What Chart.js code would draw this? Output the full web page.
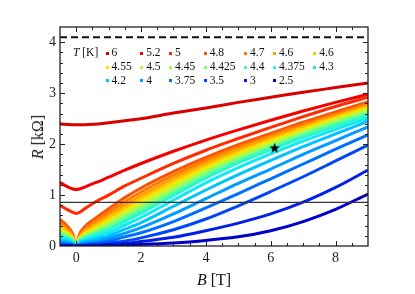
<!DOCTYPE html>
<html>
<head>
<meta charset="utf-8">
<script src="https://cdn.jsdelivr.net/npm/chart.js@4.4.0/dist/chart.umd.min.js"></script>
<style>
  html, body { margin: 0; padding: 0; background: #fff; }
  #wrap { position: relative; width: 415px; height: 294px; font-family: 'Liberation Serif', 'DejaVu Serif', serif; color: #111; }
  #chart { position: absolute; left: 0; top: 0; }
  .ax-title { position: absolute; font-size: 16px; white-space: nowrap; }
  #xTitle { left: 214px; top: 280px; transform: translate(-50%, -50%); }
  #yTitle { left: 38px; top: 137px; transform: translate(-50%, -50%) rotate(-90deg); }
  #legend { position: absolute; left: 73px; top: 46px; display: flex; font-size: 11.5px; line-height: 13.8px; }
  #legend .lg-title { width: 32.5px; }
  #legend .col { margin-right: 8.5px; }
  #legend .item { white-space: nowrap; }
  #legend .dot { display: inline-block; width: 3px; height: 3px; margin-right: 3px; vertical-align: middle; }
</style>
</head>
<body>
<div id="wrap">
  <canvas id="chart" width="415" height="294"></canvas>
  <div class="ax-title" id="xTitle"><i>B</i> [T]</div>
  <div class="ax-title" id="yTitle"><i>R</i> [kΩ]</div>
  <div id="legend"></div>
</div>
<script>
// R(B) curves at different temperatures

const temps = ['6', '5.2', '5', '4.8', '4.7', '4.6', '4.6', '4.55', '4.5', '4.45', '4.425', '4.4', '4.375', '4.3', '4.2', '4', '3.75', '3.5', '3', '2.5'];
const colors = ['#d80000', '#f40000', '#ff2a00', '#ff5200', '#ff7a00', '#ff9e00', '#ffc400', '#f2ea00', '#c8f52e', '#9cff5c', '#7cff80', '#4cffa8', '#2cf5d2', '#12e8f5', '#00c4ff', '#009cff', '#0070ff', '#0048f5', '#0020ea', '#0000cc'];

const fieldB = [-0.5, -0.35, -0.2, -0.1, 0, 0.1, 0.2, 0.35, 0.5, 0.75, 1, 1.5, 2, 3, 4, 5, 6, 7, 8, 9];

const r6    = [2.40, 2.39, 2.385, 2.38, 2.38, 2.38, 2.38, 2.385, 2.39, 2.40, 2.42, 2.46, 2.50, 2.61, 2.71, 2.82, 2.92, 3.02, 3.11, 3.20];
const r52   = [1.25, 1.19, 1.14, 1.12, 1.11, 1.12, 1.14, 1.18, 1.22, 1.28, 1.35, 1.49, 1.62, 1.86, 2.08, 2.28, 2.47, 2.65, 2.82, 2.98];
const r5    = [0.80, 0.74, 0.69, 0.66, 0.64, 0.66, 0.70, 0.77, 0.83, 0.92, 1.00, 1.18, 1.33, 1.62, 1.88, 2.11, 2.33, 2.54, 2.74, 2.92];
const r48   = [0.52, 0.44, 0.33, 0.23, 0.00, 0.23, 0.33, 0.43, 0.50, 0.62, 0.73, 0.95, 1.14, 1.46, 1.74, 1.99, 2.21, 2.43, 2.63, 2.83];
const r47   = [0.46, 0.39, 0.29, 0.20, 0.00, 0.20, 0.29, 0.38, 0.45, 0.56, 0.66, 0.87, 1.06, 1.39, 1.68, 1.94, 2.17, 2.39, 2.59, 2.79];
const r46a  = [0.41, 0.35, 0.26, 0.18, 0.00, 0.18, 0.26, 0.34, 0.40, 0.50, 0.60, 0.80, 0.99, 1.33, 1.63, 1.90, 2.13, 2.35, 2.56, 2.76];
const r46b  = [0.37, 0.31, 0.23, 0.16, 0.00, 0.16, 0.23, 0.30, 0.36, 0.45, 0.55, 0.74, 0.93, 1.27, 1.58, 1.85, 2.09, 2.32, 2.53, 2.73];
const r455  = [0.33, 0.28, 0.21, 0.14, 0.00, 0.14, 0.21, 0.27, 0.32, 0.41, 0.50, 0.68, 0.87, 1.21, 1.53, 1.81, 2.05, 2.28, 2.50, 2.70];
const r45   = [0.30, 0.25, 0.19, 0.13, 0.00, 0.13, 0.19, 0.24, 0.29, 0.37, 0.46, 0.64, 0.82, 1.16, 1.49, 1.77, 2.02, 2.25, 2.47, 2.67];
const r445  = [0.27, 0.23, 0.17, 0.12, 0.00, 0.12, 0.17, 0.22, 0.26, 0.34, 0.42, 0.60, 0.77, 1.11, 1.45, 1.73, 1.98, 2.22, 2.44, 2.64];
const r4425 = [0.24, 0.21, 0.15, 0.11, 0.00, 0.11, 0.15, 0.20, 0.24, 0.31, 0.39, 0.56, 0.73, 1.07, 1.41, 1.70, 1.95, 2.19, 2.41, 2.62];
const r44   = [0.22, 0.19, 0.14, 0.10, 0.00, 0.10, 0.14, 0.18, 0.22, 0.28, 0.35, 0.52, 0.68, 1.03, 1.37, 1.66, 1.92, 2.16, 2.38, 2.59];
const r4375 = [0.20, 0.17, 0.13, 0.09, 0.00, 0.09, 0.13, 0.16, 0.20, 0.26, 0.32, 0.48, 0.64, 0.99, 1.33, 1.63, 1.89, 2.13, 2.35, 2.56];
const r43   = [0.16, 0.14, 0.10, 0.07, 0.00, 0.07, 0.10, 0.13, 0.16, 0.21, 0.26, 0.41, 0.56, 0.90, 1.24, 1.54, 1.81, 2.06, 2.29, 2.51];
const r42   = [0.12, 0.10, 0.08, 0.05, 0.00, 0.05, 0.08, 0.10, 0.12, 0.16, 0.20, 0.33, 0.46, 0.78, 1.10, 1.40, 1.68, 1.95, 2.20, 2.45];
const r40   = [0.08, 0.07, 0.05, 0.03, 0.00, 0.03, 0.05, 0.07, 0.08, 0.11, 0.15, 0.25, 0.36, 0.63, 0.93, 1.23, 1.51, 1.80, 2.07, 2.34];
const r375  = [0.05, 0.04, 0.03, 0.02, 0.00, 0.02, 0.03, 0.04, 0.05, 0.07, 0.10, 0.18, 0.26, 0.48, 0.75, 1.03, 1.32, 1.61, 1.90, 2.18];
const r35   = [0.03, 0.02, 0.02, 0.01, 0.00, 0.01, 0.02, 0.02, 0.03, 0.04, 0.06, 0.10, 0.16, 0.32, 0.53, 0.79, 1.07, 1.36, 1.67, 1.98];
const r30   = [0.01, 0.01, 0.01, 0.00, 0.00, 0.00, 0.01, 0.01, 0.01, 0.02, 0.03, 0.05, 0.09, 0.17, 0.30, 0.45, 0.63, 0.86, 1.15, 1.49];
const r25   = [0.00, 0.00, 0.00, 0.00, 0.00, 0.00, 0.00, 0.00, 0.00, 0.01, 0.01, 0.02, 0.03, 0.06, 0.11, 0.18, 0.30, 0.48, 0.72, 1.02];

const curves = [r6, r52, r5, r48, r47, r46a, r46b, r455, r45, r445, r4425, r44, r4375, r43, r42, r40, r375, r35, r30, r25];

const refLineR = 0.855;   // solid horizontal line
const topDashR = 4.1;     // dashed line near the top
const starB = 6.12, starR = 1.92;

const xMin = -0.5, xMax = 9;
const yMin = 0, yMax = 4.3;

// legend (html, 7 columns, row-major)
const legend = document.getElementById('legend');
let html = '<div class="lg-title"><i>T</i> [K]</div>';
for (let c = 0; c < 7; c++) {
  html += '<div class="col">';
  for (let r = 0; r < 3; r++) {
    const i = r * 7 + c;
    if (i >= temps.length) continue;
    html += `<div class="item"><span class="dot" style="background:${colors[i]}"></span>${temps[i]}</div>`;
  }
  html += '</div>';
}
legend.innerHTML = html;

// filled star marker
function makeStar(size) {
  const c = document.createElement('canvas');
  c.width = size; c.height = size;
  const g = c.getContext('2d');
  const cx = size / 2, cy = size / 2, ro = size / 2, ri = ro * 0.42;
  g.beginPath();
  for (let k = 0; k < 10; k++) {
    const a = -Math.PI / 2 + k * Math.PI / 5;
    const r = k % 2 ? ri : ro;
    g.lineTo(cx + r * Math.cos(a), cy + r * Math.sin(a));
  }
  g.closePath();
  g.fillStyle = '#000';
  g.fill();
  return c;
}

const datasets = curves.map((vals, i) => ({
  label: temps[i] + ' K',
  data: fieldB.map((b, j) => ({ x: b, y: vals[j] })),
  borderColor: colors[i],
  backgroundColor: colors[i],
  borderWidth: 3,
  pointRadius: 0,
  fill: false,
  cubicInterpolationMode: 'monotone',
  order: 20 - i
}));

datasets.push({
  label: 'ref',
  data: [{ x: xMin, y: refLineR }, { x: xMax, y: refLineR }],
  borderColor: '#333', borderWidth: 1.3, pointRadius: 0, order: 0
});
datasets.push({
  label: 'top',
  data: [{ x: xMin, y: topDashR }, { x: xMax, y: topDashR }],
  borderColor: '#111', borderWidth: 2, borderDash: [7, 4], pointRadius: 0, order: 0
});
datasets.push({
  type: 'scatter',
  label: 'star',
  data: [{ x: starB, y: starR }],
  pointStyle: makeStar(11),
  pointRadius: 5.5,
  order: -1
});

const tickFont = { family: "'Liberation Serif', 'DejaVu Serif', serif", size: 14 };
const isInt = v => Math.abs(v - Math.round(v)) < 1e-6;

const framePlugin = {
  id: 'frame',
  afterDraw(chart) {
    const { ctx, chartArea: a, scales: { x, y } } = chart;
    ctx.save();
    ctx.strokeStyle = '#222';
    ctx.lineWidth = 1;
    ctx.beginPath();
    x.ticks.forEach(t => {
      if (t.value <= xMin || t.value >= xMax) return;
      const px = Math.round(x.getPixelForValue(t.value)) + 0.5;
      const len = t.label ? 5 : 3;
      ctx.moveTo(px, a.bottom); ctx.lineTo(px, a.bottom - len);
      ctx.moveTo(px, a.top); ctx.lineTo(px, a.top + len);
    });
    y.ticks.forEach(t => {
      if (t.value <= yMin || t.value >= yMax || !isInt(t.value * 5)) return;
      const py = Math.round(y.getPixelForValue(t.value)) + 0.5;
      const len = t.label ? 5 : 3;
      ctx.moveTo(a.left, py); ctx.lineTo(a.left + len, py);
      ctx.moveTo(a.right, py); ctx.lineTo(a.right - len, py);
    });
    ctx.stroke();
    ctx.lineWidth = 1.3;
    ctx.strokeRect(a.left, a.top, a.right - a.left, a.bottom - a.top);
    ctx.restore();
  }
};

new Chart(document.getElementById('chart'), {
  type: 'line',
  data: { datasets },
  options: {
    responsive: false,
    animation: false,
    layout: { padding: { top: 27, right: 47, left: 0, bottom: 0 } },
    plugins: { legend: { display: false }, tooltip: { enabled: false } },
    scales: {
      x: {
        type: 'linear', min: xMin, max: xMax,
        afterFit: s => { s.height = 48; },
        grid: { display: false, drawTicks: false },
        border: { display: false },
        ticks: {
          stepSize: 0.5, autoSkip: false, maxRotation: 0, padding: 4,
          color: '#222', font: tickFont,
          callback: v => (isInt(v) && Math.round(v) % 2 === 0) ? String(Math.round(v)) : ''
        }
      },
      y: {
        type: 'linear', min: yMin, max: yMax,
        afterFit: s => { s.width = 60; },
        grid: { display: false, drawTicks: false },
        border: { display: false },
        ticks: {
          stepSize: 0.2, autoSkip: false, padding: 4,
          color: '#222', font: tickFont,
          callback: v => isInt(v) ? String(Math.round(v)) : ''
        }
      }
    }
  },
  plugins: [framePlugin]
});
</script>
</body>
</html>
